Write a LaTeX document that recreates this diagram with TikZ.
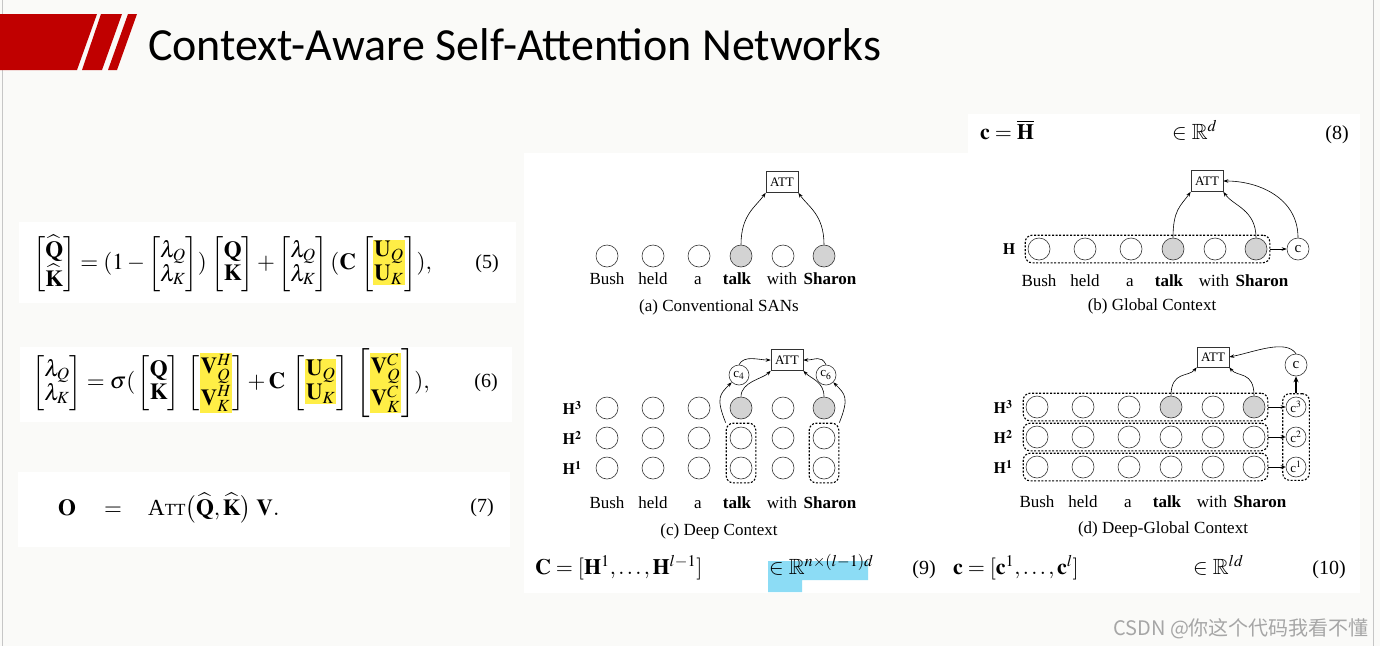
\documentclass[tikz,border=0pt]{standalone}
\usepackage{amsmath,amssymb}
\usepackage{mathptmx}
\usepackage{fontspec}
\setmainfont{Liberation Serif}
\newfontfamily\titolofont{Carlito}
\newfontfamily\cjk{Noto Sans CJK SC}
\usetikzlibrary{positioning, fit, calc, arrows.meta}
\definecolor{rosso}{RGB}{192,0,0}
\definecolor{sfondo}{RGB}{250,250,248}
\definecolor{giallo}{RGB}{255,238,70}
\definecolor{ciano}{RGB}{140,220,245}
\definecolor{grigio}{RGB}{211,211,211}
\newcommand{\fsz}[1]{\fontsize{#1}{#1}\selectfont}
\newcommand{\hlg}[1]{{\setlength{\fboxsep}{1pt}\colorbox{giallo}{$#1$}}}
\tikzset{
  tok/.style={circle,draw=black!80,line width=0.6pt,minimum size=22pt,inner sep=0pt},
  tokg/.style={tok,fill=grigio},
  ctx/.style={circle,draw=black!80,line width=0.6pt,minimum size=20pt,inner sep=0pt,font=\fsz{13}},
  att/.style={draw=black!80,line width=0.6pt,minimum width=32pt,minimum height=21pt,inner sep=0pt,font=\fsz{13}},
  grp/.style={draw,line width=1.1pt,dash pattern=on 2pt off 1.6pt,rounded corners=7pt,inner sep=3pt},
  parola/.style={anchor=base,font=\fsz{17}},
  didascalia/.style={anchor=base,font=\fsz{17}},
  etich/.style={font=\fsz{16}},
  freccia/.style={line width=0.6pt,-{Stealth[length=5pt,width=3.5pt]}},
  eqn/.style={anchor=west,inner sep=0pt,font=\fsz{23}},
  eqr/.style={anchor=base west,inner sep=0pt,font=\fsz{22}},
  numero/.style={font=\fsz{20}},
}
\begin{document}
\begin{tikzpicture}[x=1pt,y=-1pt]
    %sfondo e bordi
    \fill[sfondo] (0,0) rectangle (1380,646);
    \useasboundingbox (0,0) rectangle (1380,646);
    \draw[gray!45,line width=0.8pt] (2,0) -- (2,646);
    \draw[gray!45,line width=0.8pt] (1373,0) -- (1373,646);
    %banda rossa e titolo
    \fill[rosso] (0,14) -- (97,14) -- (77,70) -- (0,70) -- cycle;
    \fill[rosso] (101,14) -- (122,14) -- (102,70) -- (82,70) -- cycle;
    \fill[rosso] (128,14) -- (137,14) -- (117,70) -- (108,70) -- cycle;
    \node[anchor=base west,inner sep=0pt,font=\titolofont\fsz{46}] (titolo) at (148,60) {Context-Aware Self-Attention Networks};
    %pannelli bianchi
    \fill[white] (19,222) rectangle (516,303);
    \fill[white] (20,347) rectangle (512,422);
    \fill[white] (18,472) rectangle (510,547);
    \fill[white] (524,153) -- (968,153) -- (968,114) -- (1360,114) -- (1360,593) -- (524,593) -- cycle;
    %equazioni a sinistra
    \node[eqn] (eq5) at (33,264) {$\displaystyle
      \begin{bmatrix}\widehat{\mathbf{Q}}\\ \widehat{\mathbf{K}}\end{bmatrix}
      =(1-\begin{bmatrix}\lambda_Q\\ \lambda_K\end{bmatrix})\,
      \begin{bmatrix}\mathbf{Q}\\ \mathbf{K}\end{bmatrix}
      +\begin{bmatrix}\lambda_Q\\ \lambda_K\end{bmatrix}
      (\mathbf{C}\,\begin{bmatrix}\hlg{\mathbf{U}_Q}\\ \hlg{\mathbf{U}_K}\end{bmatrix}),$};
    \node[numero] (n5) at (487,264) {(5)};
    \node[eqn] (eq6) at (32,383) {$\displaystyle
      \begin{bmatrix}\lambda_Q\\ \lambda_K\end{bmatrix}
      =\sigma(\,\begin{bmatrix}\mathbf{Q}\\ \mathbf{K}\end{bmatrix}\;
      \begin{bmatrix}\hlg{\mathbf{V}^H_Q}\\ \hlg{\mathbf{V}^H_K}\end{bmatrix}
      +\mathbf{C}\;\begin{bmatrix}\hlg{\mathbf{U}_Q}\\ \hlg{\mathbf{U}_K}\end{bmatrix}\;
      \begin{bmatrix}\hlg{\mathbf{V}^C_Q}\\ \hlg{\mathbf{V}^C_K}\end{bmatrix}),$};
    \node[numero] (n6) at (486,383) {(6)};
    \node[eqn] (eq7) at (58,508) {$\mathbf{O}\hspace{23pt}=\hspace{21pt}\text{A{\fsz{17}TT}}\bigl(\widehat{\mathbf{Q}},\widehat{\mathbf{K}}\bigr)\;\mathbf{V}.$};
    \node[numero] (n7) at (482,508) {(7)};
    %equazioni (8) (9) (10)
    \node[eqr] (eq8) at (980,139) {$\mathbf{c}=\overline{\mathbf{H}}$};
    \node[eqr] (eq8r) at (1172,139) {$\in\mathbb{R}^d$};
    \node[numero,anchor=base] (n8) at (1337,139) {(8)};
    \fill[ciano] (768,561) -- (868,561) -- (868,580) -- (802,580) -- (802,592) -- (768,592) -- cycle;
    \node[eqr] (eq9) at (535,574) {$\mathbf{C}=[\mathbf{H}^1,\dots,\mathbf{H}^{l-1}]$};
    \node[eqr] (eq9r) at (769,574) {$\in\mathbb{R}^{n\times(l-1)d}$};
    \node[numero,anchor=base] (n9) at (924,574) {(9)};
    \node[eqr] (eq10) at (953,574) {$\mathbf{c}=[\mathbf{c}^1,\dots,\mathbf{c}^l]$};
    \node[eqr] (eq10r) at (1193,574) {$\in\mathbb{R}^{ld}$};
    \node[numero,anchor=base] (n10) at (1329,574) {(10)};
    %(a) SAN convenzionale
    \foreach \dx/\wx/\w/\s [count=\i] in {0/0/Bush/tok,46/46/held/tok,92/91/a/tok,134/130/\textbf{talk}/tokg,176/175/with/tok,217/223/\textbf{Sharon}/tokg}{
      \node[\s] (a-\i) at (607+\dx,256) {};
      \node[parola] (wa-\i) at (607+\wx,284) {\w};
    }
    \node[att] (attA) at (782,182) {ATT};
    \draw[freccia] (a-4.north) .. controls +(0,-30) and +(-10,14) .. (attA.south west);
    \draw[freccia] (a-6.north) .. controls +(0,-30) and +(10,14) .. (attA.south east);
    \node[didascalia] (capA) at (719,311) {(a) Conventional SANs};
    %(b) contesto globale
    \foreach \dx/\wx/\w/\s [count=\i] in {0/0/Bush/tok,46/46/held/tok,92/91/a/tok,134/130/\textbf{talk}/tokg,176/175/with/tok,217/223/\textbf{Sharon}/tokg}{
      \node[\s] (b-\i) at (1039+\dx,249) {};
      \node[parola] (wb-\i) at (1039+\wx,286) {\w};
    }
    \node[grp,inner sep=2.5pt,fit=(b-1)(b-6)] (bH) {};
    \node[etich] (bHlab) at (1009,249) {$\mathbf{H}$};
    \node[ctx,minimum size=22pt,font=\fsz{15}] (bc) at (1298,249) {c};
    \node[att] (attB) at (1207,181) {ATT};
    \draw[freccia] (bH.east) -- (bc.west);
    \draw[freccia] (b-4.north) .. controls +(0,-28) and +(-10,14) .. (attB.south west);
    \draw[freccia] (b-6.north) .. controls +(0,-28) and +(10,14) .. (attB.south east);
    \draw[freccia] (bc.north) .. controls +(0,-40) and +(35,0) .. (attB.east);
    \node[didascalia] (capB) at (1152,310) {(b) Global Context};
    %(c) contesto profondo
    \foreach \r/\y in {1/468,2/438}{
      \foreach \dx [count=\i] in {0,46,92,134,176,217}{
        \node[tok] (c-\r-\i) at (607+\dx,\y) {};
      }
    }
    \foreach \dx/\wx/\w/\s [count=\i] in {0/0/Bush/tok,46/46/held/tok,92/91/a/tok,134/130/\textbf{talk}/tokg,176/175/with/tok,217/223/\textbf{Sharon}/tokg}{
      \node[\s] (c-3-\i) at (607+\dx,408) {};
      \node[parola] (wc-\i) at (607+\wx,508) {\w};
    }
    \node[etich] (cH3) at (572,408) {$\mathbf{H}^{\mathbf{3}}$};
    \node[etich] (cH2) at (572,438) {$\mathbf{H}^{\mathbf{2}}$};
    \node[etich] (cH1) at (572,468) {$\mathbf{H}^{\mathbf{1}}$};
    \node[grp,inner sep=3.5pt,fit=(c-2-4)(c-1-4)] (box4) {};
    \node[grp,inner sep=3.5pt,fit=(c-2-6)(c-1-6)] (box6) {};
    \node[ctx] (c4) at (739,375) {c$_4$};
    \node[ctx] (c6) at (826,375) {c$_6$};
    \node[att] (attC) at (787,360) {ATT};
    \draw[freccia] (box4.north west) .. controls +(-10,-25) and +(-12,12) .. (c4.south west);
    \draw[freccia] (box6.north east) .. controls +(10,-25) and +(12,12) .. (c6.south east);
    \draw[freccia] (c-3-4.north) .. controls +(0,-15) and +(-8,8) .. (attC.south west);
    \draw[freccia] (c-3-6.north) .. controls +(0,-15) and +(8,8) .. (attC.south east);
    \draw[freccia] (c4.north) .. controls +(5,-10) and +(-12,0) .. (attC.west);
    \draw[freccia] (c6.north) .. controls +(-5,-10) and +(12,0) .. (attC.east);
    \node[didascalia] (capC) at (719,535) {(c) Deep Context};
    %(d) contesto profondo-globale
    \foreach \r/\y in {1/467,2/437}{
      \foreach \dx [count=\i] in {0,46,92,134,176,217}{
        \node[tok] (d-\r-\i) at (1037+\dx,\y) {};
      }
    }
    \foreach \dx/\wx/\w/\s [count=\i] in {0/0/Bush/tok,46/46/held/tok,92/91/a/tok,134/130/\textbf{talk}/tokg,176/175/with/tok,217/223/\textbf{Sharon}/tokg}{
      \node[\s] (d-3-\i) at (1037+\dx,407) {};
      \node[parola] (wd-\i) at (1037+\wx,507) {\w};
    }
    \node[etich] (dH3) at (1003,407) {$\mathbf{H}^{\mathbf{3}}$};
    \node[etich] (dH2) at (1003,437) {$\mathbf{H}^{\mathbf{2}}$};
    \node[etich] (dH1) at (1003,467) {$\mathbf{H}^{\mathbf{1}}$};
    \node[grp,inner sep=2.5pt,fit=(d-3-1)(d-3-6)] (dR3) {};
    \node[grp,inner sep=2.5pt,fit=(d-2-1)(d-2-6)] (dR2) {};
    \node[grp,inner sep=2.5pt,fit=(d-1-1)(d-1-6)] (dR1) {};
    \node[ctx] (dc3) at (1296,407) {c$^3$};
    \node[ctx] (dc2) at (1296,437) {c$^2$};
    \node[ctx] (dc1) at (1296,467) {c$^1$};
    \node[grp,inner sep=3pt,fit=(dc3)(dc1)] (dCol) {};
    \node[ctx,minimum size=22pt,font=\fsz{15}] (dc) at (1296,365) {c};
    \node[att,minimum height=20pt] (attD) at (1213,357) {ATT};
    \draw[freccia] (dR3.east) -- (dc3.west);
    \draw[freccia] (dR2.east) -- (dc2.west);
    \draw[freccia] (dR1.east) -- (dc1.west);
    \draw[line width=1.2pt,-{Stealth[length=6pt,width=5pt]}] (dCol.north) -- (dc.south);
    \draw[freccia] (d-3-4.north) .. controls +(0,-25) and +(-8,10) .. (attD.south west);
    \draw[freccia] (d-3-6.north) .. controls +(0,-25) and +(8,10) .. (attD.south east);
    \draw[freccia] (dc.north) .. controls +(-10,-15) and +(25,-5) .. (attD.east);
    \node[didascalia] (capD) at (1163,533) {(d) Deep-Global Context};
    %firma
    \node[anchor=base west,inner sep=0pt,font=\cjk\fsz{20},text=gray!70] (firma) at (1113,635) {CSDN @你这个代码我看不懂};
\end{tikzpicture}
\end{document}
